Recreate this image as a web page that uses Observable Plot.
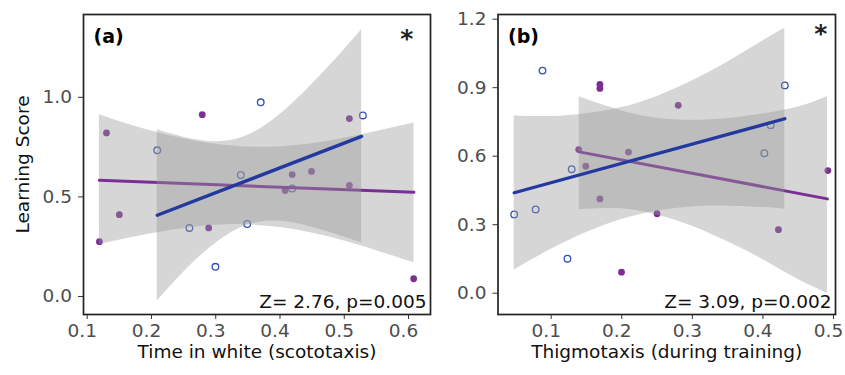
<!DOCTYPE html>
<html><head><meta charset="utf-8">
<script src="https://cdn.jsdelivr.net/npm/d3@7"></script>
<script src="https://cdn.jsdelivr.net/npm/@observablehq/plot@0.6"></script>
<style>
body{margin:0;background:#fff;}
#wrap{display:flex;width:845px;height:375px;overflow:hidden;}
#wrap svg{overflow:visible;}
g[aria-label="x-axis label"] text, g[aria-label="y-axis label"] text,
g[aria-label="x-axis label"], g[aria-label="y-axis label"]{fill:#111;}
</style></head><body><div id="wrap"></div>
<script>
// ---------- Panel (a): Time in white (scototaxis) ----------
const aPurpleX = [0.119, 0.130, 0.150, 0.279, 0.289, 0.408, 0.419, 0.449, 0.508, 0.508, 0.608];
const aPurpleY = [0.275, 0.821, 0.411, 0.913, 0.344, 0.532, 0.612, 0.628, 0.893, 0.558, 0.089];
const aBlueX = [0.209, 0.259, 0.2995, 0.339, 0.349, 0.370, 0.419, 0.529];
const aBlueY = [0.734, 0.344, 0.149, 0.610, 0.364, 0.975, 0.542, 0.909];
const aPurpleLineX = [0.119, 0.6085];
const aPurpleLineY = [0.583, 0.523];
const aBlueLineX = [0.209, 0.527];
const aBlueLineY = [0.408, 0.804];
const aPurpleBandX  = [0.119, 0.2, 0.3, 0.4, 0.5, 0.6085];
const aPurpleBandLo = [0.261, 0.315, 0.358, 0.346, 0.279, 0.169];
const aPurpleBandHi = [0.913, 0.831, 0.764, 0.752, 0.795, 0.871];
const aBlueBandX  = [0.209, 0.25, 0.3, 0.35, 0.4, 0.45, 0.5, 0.527];
const aBlueBandLo = [-0.023, 0.122, 0.267, 0.359, 0.378, 0.348, 0.299, 0.269];
const aBlueBandHi = [0.837, 0.800, 0.777, 0.809, 0.914, 1.066, 1.239, 1.339];
const aXTicks = [0.1, 0.2, 0.3, 0.4, 0.5, 0.6];
const aYTicks = [0.0, 0.5, 1.0];
const aXTitle = "Time in white (scototaxis)";
const aYTitle = "Learning Score";
const aTag = "(a)";
const aStat = "Z= 2.76, p=0.005";

// ---------- Panel (b): Thigmotaxis (during training) ----------
const bPurpleX = [0.169, 0.169, 0.280, 0.139, 0.2095, 0.149, 0.492, 0.169, 0.250, 0.422, 0.1996];
const bPurpleY = [0.914, 0.897, 0.823, 0.629, 0.618, 0.556, 0.537, 0.413, 0.348, 0.278, 0.092];
const bBlueX = [0.0877, 0.431, 0.411, 0.402, 0.129, 0.0476, 0.078, 0.123];
const bBlueY = [0.975, 0.910, 0.736, 0.613, 0.543, 0.345, 0.367, 0.151];
const bPurpleLineX = [0.1397, 0.4914];
const bPurpleLineY = [0.619, 0.413];
const bBlueLineX = [0.0476, 0.431];
const bBlueLineY = [0.440, 0.764];
const bPurpleBandX  = [0.1397, 0.2, 0.25, 0.3, 0.35, 0.4, 0.45, 0.4914];
const bPurpleBandLo = [0.366, 0.370, 0.342, 0.293, 0.225, 0.147, 0.060, 0.000];
const bPurpleBandHi = [0.860, 0.798, 0.766, 0.757, 0.765, 0.785, 0.815, 0.862];
const bBlueBandX  = [0.0476, 0.1, 0.15, 0.2, 0.25, 0.3, 0.35, 0.4, 0.431];
const bBlueBandLo = [0.102, 0.192, 0.266, 0.323, 0.360, 0.378, 0.381, 0.375, 0.368];
const bBlueBandHi = [0.776, 0.774, 0.786, 0.813, 0.862, 0.930, 1.013, 1.105, 1.160];
const bXTicks = [0.1, 0.2, 0.3, 0.4, 0.5];
const bYTicks = [0.0, 0.3, 0.6, 0.9, 1.2];
const bXTitle = "Thigmotaxis (during training)";
const bTag = "(b)";
const bStat = "Z= 3.09, p=0.002";

const PURPLE = "#7b2f95", BLUE = "#22399f", OPEN = "#3450b5";
const FONT = "DejaVu Sans";

const pts = (xs, ys) => xs.map((x, i) => ({x, y: ys[i]}));
const band = (xs, lo, hi) => xs.map((x, i) => ({x, lo: lo[i], hi: hi[i]}));

function panel(c) {
  const fmt = d3.format(".1f");
  const ribbon = (rows) => Plot.areaY(rows, {x: "x", y1: "lo", y2: "hi", fill: "#999999", fillOpacity: 0.4, curve: "natural"});
  return Plot.plot({
    width: c.width, height: 375,
    marginLeft: c.ml, marginRight: c.mr, marginTop: 14, marginBottom: 61,
    style: {fontFamily: FONT, fontSize: "18.5px", background: "transparent"},
    x: {domain: c.xd},
    y: {domain: c.yd},
    marks: [
      Plot.dot(c.purple, {x: "x", y: "y", r: 3.4, fill: PURPLE}),
      Plot.dot(c.blue, {x: "x", y: "y", r: 3.3, fill: "none", stroke: OPEN, strokeWidth: 1.3}),
      ribbon(c.pBand),
      Plot.line(c.pLine, {x: "x", y: "y", stroke: PURPLE, strokeWidth: 3}),
      ribbon(c.bBand),
      Plot.line(c.bLine, {x: "x", y: "y", stroke: BLUE, strokeWidth: 3.3}),
      // x tick marks
      Plot.axisX(c.xt, {tickSize: 5, fill: "none", stroke: "#333", label: null}),
      // x tick labels + title
      Plot.axisX(c.xt, {tickSize: 0, tickPadding: 9, dx: -5, tickFormat: fmt, fontSize: 18.5, stroke: "none", fill: "#4d4d4d",
        label: c.xTitle, labelAnchor: "center", labelOffset: 43, labelArrow: "none"}),
      Plot.axisY(c.yt, {tickSize: 5, tickPadding: 6.5, tickFormat: fmt, fontSize: 18.5, stroke: "#333", fill: "#4d4d4d",
        label: c.yTitle, labelAnchor: "center", labelOffset: 68, labelArrow: "none"}),
      Plot.frame({stroke: "#222", strokeWidth: 1.7}),
      Plot.text([c.tag], {frameAnchor: "top-left", dx: 10, dy: 28, lineAnchor: "bottom", textAnchor: "start", fontWeight: "bold", fontSize: 19, fill: "#000"}),
      Plot.text(["*"], {frameAnchor: "top-right", dx: c.astDx, dy: c.astDy, lineAnchor: "bottom", textAnchor: "end", fontWeight: "bold", fontSize: 25, fill: "#222"}),
      Plot.text([c.stat], {frameAnchor: "bottom-right", dx: -4, dy: -6.7, lineAnchor: "bottom", textAnchor: "end", fontSize: 18.5, fill: "#111"})
    ]
  });
}

const wrap = document.getElementById("wrap");
wrap.append(panel({
  width: 440, ml: 83, mr: 10,
  xd: [0.09424, 0.6342], yd: [-0.0904, 1.4157],
  purple: pts(aPurpleX, aPurpleY), blue: pts(aBlueX, aBlueY),
  pLine: pts(aPurpleLineX, aPurpleLineY), bLine: pts(aBlueLineX, aBlueLineY),
  pBand: band(aPurpleBandX, aPurpleBandLo, aPurpleBandHi), bBand: band(aBlueBandX, aBlueBandLo, aBlueBandHi),
  xt: aXTicks, yt: aYTicks, xTitle: aXTitle, yTitle: aYTitle, tag: aTag, stat: aStat,
  astDx: -17.25, astDy: 32.5
}));
wrap.append(panel({
  width: 405, ml: 57.5, mr: 10,
  xd: [0.02462, 0.50283], yd: [-0.0933, 1.2206],
  purple: pts(bPurpleX, bPurpleY), blue: pts(bBlueX, bBlueY),
  pLine: pts(bPurpleLineX, bPurpleLineY), bLine: pts(bBlueLineX, bBlueLineY),
  pBand: band(bPurpleBandX, bPurpleBandLo, bPurpleBandHi), bBand: band(bBlueBandX, bBlueBandLo, bBlueBandHi),
  xt: bXTicks, yt: bYTicks, xTitle: bXTitle, yTitle: null, tag: bTag, stat: bStat,
  astDx: -8.25, astDy: 27.5
}));
</script></body></html>
